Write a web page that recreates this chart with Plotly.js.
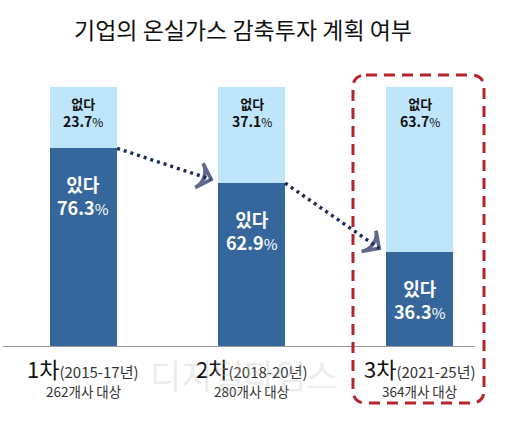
<!DOCTYPE html>
<html>
<head>
<meta charset="utf-8">
<script src="https://cdn.plot.ly/plotly-3.0.1.min.js"></script>
<style>html,body{margin:0;padding:0;background:#fff;}#chart{width:526px;height:434px;}</style>
</head>
<body>
<div id="chart"></div>
<script>
// ---- data ----
const rounds = ['1차', '2차', '3차'];
const periods = ['(2015-17년)', '(2018-20년)', '(2021-25년)'];
const companies = ['262개사 대상', '280개사 대상', '364개사 대상'];
const yesValues = [76.3, 62.9, 36.3];   // 있다
const noValues = [23.7, 37.1, 63.7];    // 없다
const yesLabel = '있다';
const noLabel = '없다';
const titleText = '기업의 온실가스 감축투자 계획 여부';
const watermark = '디지털타임스';

const FONT = '"Noto Sans CJK KR", "Noto Sans", sans-serif';
const DARK = '#35669c';
const LIGHT = '#bee5f9';
const NAVY = '#1c2a5c';
const xs = rounds.map((_, i) => i);

const traces = [
  {type: 'bar', x: xs, y: yesValues, width: 0.4, marker: {color: DARK}, hoverinfo: 'skip', name: yesLabel},
  {type: 'bar', x: xs, y: noValues, width: 0.4, marker: {color: LIGHT}, hoverinfo: 'skip', name: noLabel}
];

// dotted arrows between consecutive "있다" tops
for (let i = 0; i < yesValues.length - 1; i++) {
  traces.push({
    type: 'scatter', mode: 'lines+markers', cliponaxis: false, hoverinfo: 'skip',
    x: [i + 0.2, i + 1 - 0.24],
    y: [yesValues[i], yesValues[i + 1] + 1.4],
    line: {color: NAVY, width: 3.4, dash: '3px,4px'},
    marker: {symbol: ['circle', 'arrow-wide-open'], size: [0, 18], angleref: 'previous',
             color: NAVY, line: {color: NAVY, width: 3.6}}
  });
}

const annotations = [];
xs.forEach(i => {
  // 없다 label at top of light segment
  annotations.push({
    x: i, y: yesValues[i] + noValues[i], xref: 'x', yref: 'y', yanchor: 'top', yshift: -5,
    showarrow: false, align: 'center',
    font: {family: FONT, size: 14, color: '#111'},
    text: '<b><span style="font-size:13px">' + noLabel + '</span></b><br><b>' + noValues[i].toFixed(1) +
          '</b><span style="font-size:12px">%</span>'
  });
  // 있다 label inside dark segment
  annotations.push({
    x: i, y: yesValues[i], xref: 'x', yref: 'y', yanchor: 'top', yshift: -21,
    showarrow: false, align: 'center',
    font: {family: FONT, size: 18, color: '#fff'},
    text: '<b>' + yesLabel + '</b><br><b>' + yesValues[i].toFixed(1) +
          '</b><span style="font-size:15px">%</span>'
  });
  // category labels
  annotations.push({
    x: i, y: 0, xref: 'x', yref: 'y', yanchor: 'middle', yshift: -22,
    showarrow: false,
    font: {family: FONT, size: 22, color: '#111'},
    text: rounds[i] + '<span style="font-size:15px;color:#333">' + periods[i] + '</span>'
  });
  annotations.push({
    x: i, y: 0, xref: 'x', yref: 'y', yanchor: 'middle', yshift: -45,
    showarrow: false,
    font: {family: FONT, size: 13.5, color: '#333'},
    text: companies[i]
  });
});
annotations.push({
  x: 0.51, y: -0.1, xref: 'paper', yref: 'paper', yanchor: 'middle', showarrow: false,
  font: {family: FONT, size: 34, color: 'rgba(190,190,190,0.3)'},
  text: watermark
});

// pixel -> paper helpers for the rounded dashed box
const L = 3, W = 472, T = 60, H = 286;
const px = v => ((v - L) / W).toFixed(4);
const py = v => ((T + H - v) / H).toFixed(4);
function roundRect(l, t, r, b, rad) {
  return `M ${px(l + rad)},${py(t)} L ${px(r - rad)},${py(t)} Q ${px(r)},${py(t)} ${px(r)},${py(t + rad)} ` +
         `L ${px(r)},${py(b - rad)} Q ${px(r)},${py(b)} ${px(r - rad)},${py(b)} ` +
         `L ${px(l + rad)},${py(b)} Q ${px(l)},${py(b)} ${px(l)},${py(b - rad)} ` +
         `L ${px(l)},${py(t + rad)} Q ${px(l)},${py(t)} ${px(l + rad)},${py(t)} Z`;
}

const layout = {
  width: 526, height: 434,
  margin: {l: L, r: 526 - L - W, t: T, b: 434 - T - H},
  paper_bgcolor: '#fff', plot_bgcolor: '#fff',
  barmode: 'stack', bargap: 0.6, showlegend: false,
  title: {text: titleText, x: 0.462, xanchor: 'center', y: 0.928, yanchor: 'middle', yref: 'container',
          font: {family: FONT, size: 23, color: '#111'}},
  xaxis: {range: [-0.479, 2.33], showticklabels: false, ticks: '', showgrid: false, zeroline: false,
          showline: true, linecolor: '#9a9a9a', linewidth: 1.2, fixedrange: true},
  yaxis: {range: [0, 110.4], visible: false, showgrid: false, zeroline: false, fixedrange: true},
  annotations: annotations,
  shapes: [{type: 'path', xref: 'paper', yref: 'paper', layer: 'above',
            path: roundRect(353, 75, 484, 403, 13),
            line: {color: '#b3242b', width: 3, dash: '11px,7px'}}]
};

Plotly.newPlot('chart', traces, layout, {staticPlot: true, displayModeBar: false});
</script>
</body>
</html>
